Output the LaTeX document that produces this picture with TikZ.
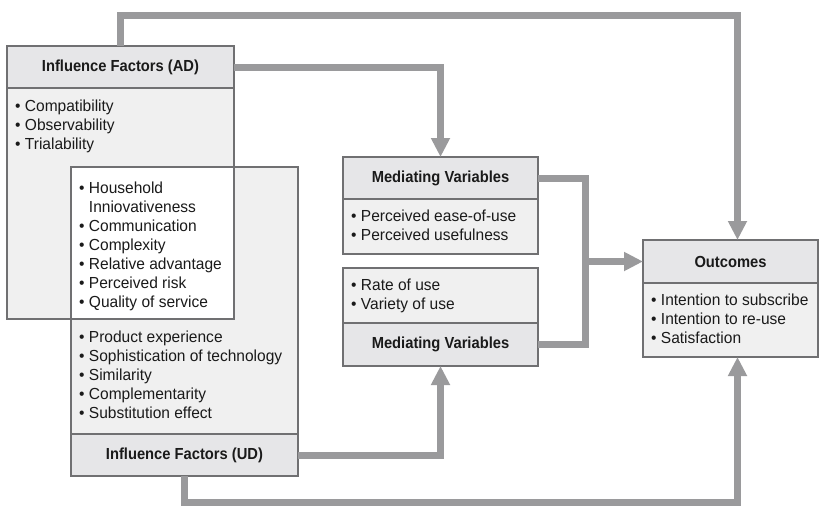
\documentclass[tikz,border=0pt]{standalone}
\usepackage{fontspec}
\setmainfont[FakeStretch=0.97]{Liberation Sans}
\newfontfamily\hdrfont[FakeStretch=0.92]{Liberation Sans}
\usetikzlibrary{arrows.meta,calc}
\definecolor{hdrfill}{HTML}{E6E6E8}
\definecolor{bodyfill}{HTML}{F0F0F0}
\definecolor{boxline}{HTML}{707072}
\definecolor{connc}{HTML}{9A9A9C}
\definecolor{txt}{HTML}{1A1A1A}
\tikzset{
  box/.style={draw=boxline, line width=1.4pt, inner sep=0pt, outer sep=0pt},
  hdr/.style={box, fill=hdrfill, font=\hdrfont\bfseries\fontsize{16}{19}\selectfont, text=txt},
  item/.style={anchor=base west, inner sep=0pt, font=\fontsize{16}{19}\selectfont, text=txt},
  conn/.style={draw=connc, line width=7pt},
  arr/.style={conn, -{Triangle[width=18pt,length=19pt]}}
}
\newcommand{\bl}{\textbullet\ }
\newcommand{\bi}{\phantom{\textbullet\ }}
\begin{document}
\begin{tikzpicture}[x=1pt,y=-1pt]
\useasboundingbox (0,0) rectangle (820,506);
% ---- fills of the two overlapping influence boxes
\fill[bodyfill] (7,88) rectangle (234,319);
\fill[bodyfill] (71,167) rectangle (298,434);
\fill[white] (71,167) rectangle (234,319);
% bodies (borders)
\node[box, minimum width=227pt, minimum height=231pt] (adb) at (120.5,203.5) {};
\node[box, minimum width=227pt, minimum height=267pt] (udb) at (184.5,300.5) {};
% headers
\node[hdr, minimum width=227pt, minimum height=42pt] (adh) at (120.5,67) {Influence Factors (AD)};
\node[hdr, minimum width=227pt, minimum height=42pt] (udh) at (184.5,455) {Influence Factors (UD)};
% mediating 1
\node[hdr, minimum width=195pt, minimum height=42pt] (m1h) at (440.5,178) {Mediating Variables};
\node[box, fill=bodyfill, minimum width=195pt, minimum height=55pt] (m1b) at (440.5,226.5) {};
% mediating 2
\node[box, fill=bodyfill, minimum width=195pt, minimum height=55pt] (m2b) at (440.5,295.5) {};
\node[hdr, minimum width=195pt, minimum height=43pt] (m2h) at (440.5,344.5) {Mediating Variables};
% outcomes
\node[hdr, minimum width=175pt, minimum height=43pt] (oh) at (730.5,261.5) {Outcomes};
\node[box, fill=bodyfill, minimum width=175pt, minimum height=74pt] (ob) at (730.5,320) {};
% ---- items
\node[item] (a1) at (15,111) {\bl Compatibility};
\node[item] (a2) at (15,130) {\bl Observability};
\node[item] (a3) at (15,149) {\bl Trialability};
\node[item] (c1) at (79,193) {\bl Household};
\node[item] (c2) at (79,212) {\bi Inniovativeness};
\node[item] (c3) at (79,231) {\bl Communication};
\node[item] (c4) at (79,250) {\bl Complexity};
\node[item] (c5) at (79,269) {\bl Relative advantage};
\node[item] (c6) at (79,288) {\bl Perceived risk};
\node[item] (c7) at (79,307) {\bl Quality of service};
\node[item] (u1) at (79,342.5) {\bl Product experience};
\node[item] (u2) at (79,361.5) {\bl Sophistication of technology};
\node[item] (u3) at (79,380.5) {\bl Similarity};
\node[item] (u4) at (79,399.5) {\bl Complementarity};
\node[item] (u5) at (79,418.5) {\bl Substitution effect};
\node[item] (p1) at (351,221.5) {\bl Perceived ease-of-use};
\node[item] (p2) at (351,240.5) {\bl Perceived usefulness};
\node[item] (r1) at (351,290) {\bl Rate of use};
\node[item] (r2) at (351,309) {\bl Variety of use};
\node[item] (o1) at (651,305) {\bl Intention to subscribe};
\node[item] (o2) at (651,324) {\bl Intention to re-use};
\node[item] (o3) at (651,343) {\bl Satisfaction};
% ---- connectors
\coordinate (tL) at (120.5,15.7);
\coordinate (tR) at (737.5,15.7);
\coordinate (bR) at (737.5,502.5);
\coordinate (jx) at (585,261.5);
\draw[arr] (adh.north) -- (tL) -- (tR) -- (tR |- oh.north);
\draw[arr] (adh.east) -| (m1h.north);
\draw[conn] (m1h.east) -| (jx) |- (m2h.east);
\draw[arr] (jx) -- (oh.west);
\draw[arr] (udh.east) -| (m2h.south);
\draw[arr] (udh.south) |- (bR) -- (bR |- ob.south);
\end{tikzpicture}
\end{document}
